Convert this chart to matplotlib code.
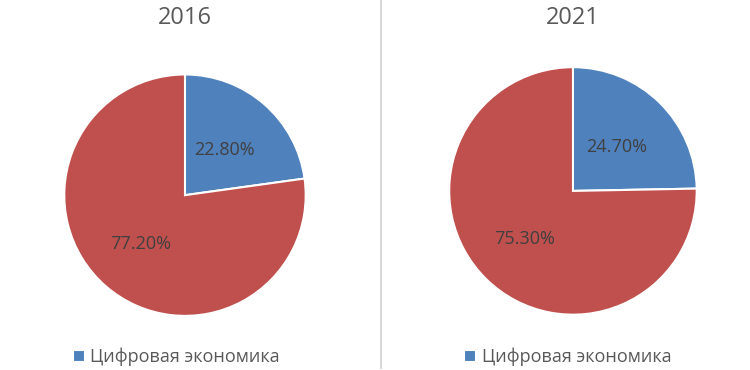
import matplotlib.pyplot as plt
from matplotlib.lines import Line2D

plt.rcParams['font.family'] = ['Open Sans', 'DejaVu Sans']

years = ['2016', '2021']
legend_label = 'Цифровая экономика'
digital_share = [22.8, 24.7]
other_share = [77.2, 75.3]
colors = ['#4F81BD', '#C0504D']

fig = plt.figure(figsize=(7.5, 3.7), dpi=100)

# axes boxes (left, bottom, width, height) in figure fraction, and legend centres
boxes = [(0.084, 0.143, 0.3253, 0.659), (0.5973, 0.146, 0.3333, 0.676)]
legend_x = [0.235, 0.757]
title_x = [0.246, 0.764]

for i, year in enumerate(years):
    ax = fig.add_axes(boxes[i])
    wedges, _, autotexts = ax.pie(
        [digital_share[i], other_share[i]], colors=colors,
        startangle=90, counterclock=False, radius=1,
        autopct='%.2f%%', pctdistance=0.5,
        wedgeprops=dict(edgecolor='white', linewidth=1.5),
        textprops=dict(color='#404040', fontsize=13))
    # the larger slice's label sits a bit further out
    x, y = autotexts[1].get_position()
    autotexts[1].set_position((x * 1.12, y * 1.08))
    ax.set_xlim(-1.01, 1.01)
    ax.set_ylim(-1.01, 1.01)
    ax.set_aspect('equal')
    ax.axis('off')
    fig.text(title_x[i], 0.95, year,
             ha='center', va='center', fontsize=17, color='#595959')
    fig.legend([wedges[0]], [legend_label], loc='center',
               bbox_to_anchor=(legend_x[i], 0.035), frameon=False,
               handlelength=0.65, handleheight=0.65, handletextpad=0.3,
               prop=dict(size=13), labelcolor='#595959')

# divider between the two charts
fig.add_artist(Line2D([0.508, 0.508], [0.005, 1.0], color='#D9D9D9', lw=1.5))

fig.savefig('out.png', dpi=100)
